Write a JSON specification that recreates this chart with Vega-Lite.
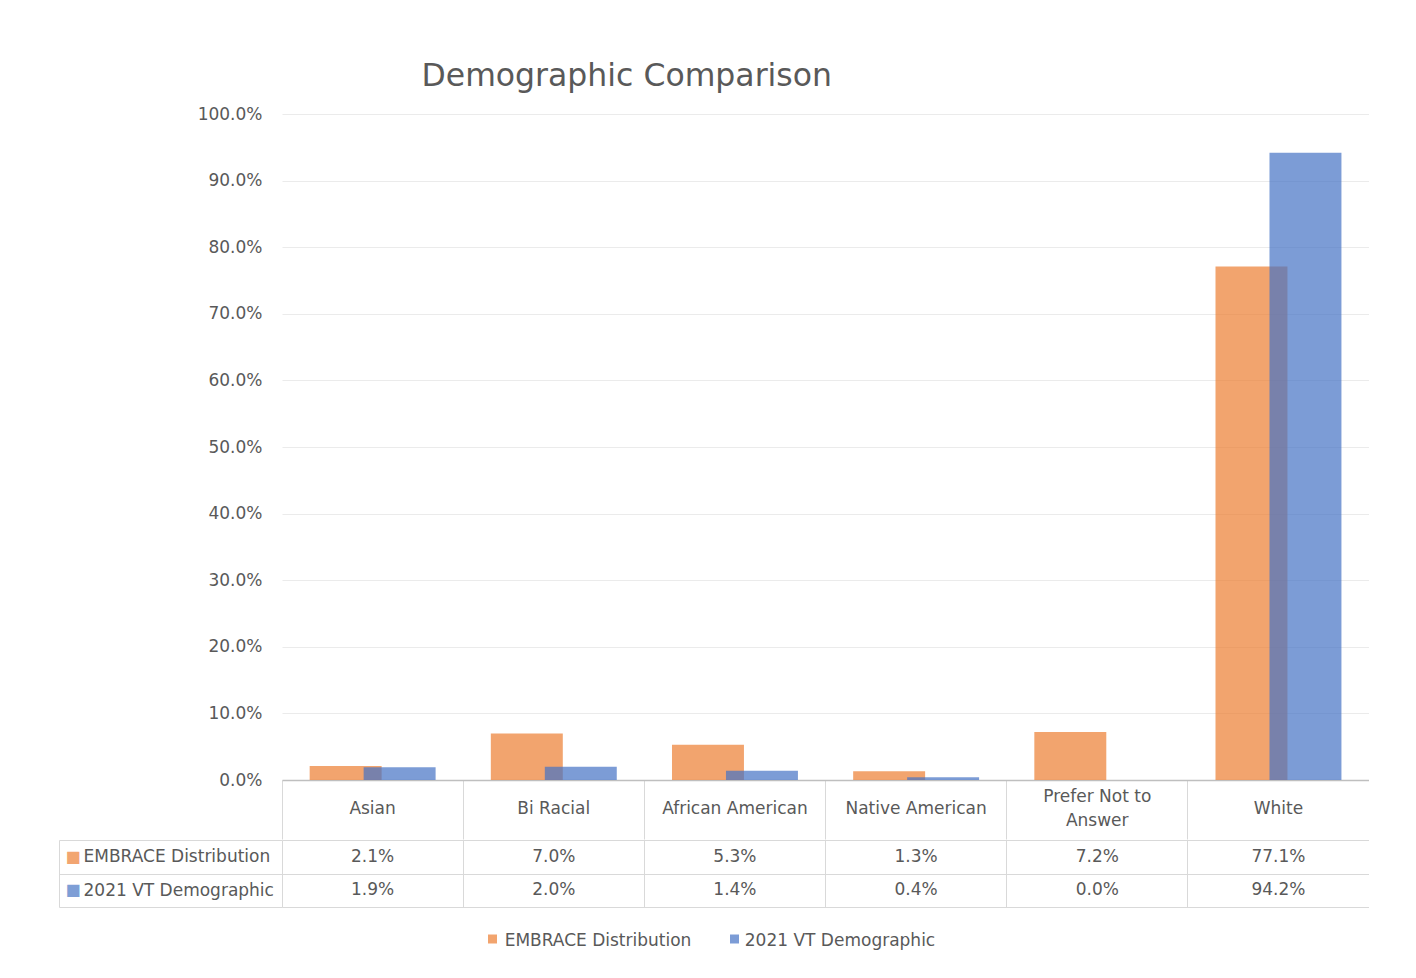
{
  "$schema": "https://vega.github.io/schema/vega-lite/v6.json",
  "background": "white",
  "padding": {"left": 58, "top": 60, "right": 0, "bottom": 0},
  "title": {
    "text": "Demographic Comparison",
    "anchor": "start",
    "dx": 363,
    "offset": 13,
    "font": "DejaVu Sans",
    "fontSize": 31.5,
    "fontWeight": "normal",
    "color": "#595959"
  },
  "datasets": {
    "shares": [
      {"category": "Asian", "series": "EMBRACE Distribution", "value": 0.021},
      {"category": "Bi Racial", "series": "EMBRACE Distribution", "value": 0.070},
      {"category": "African American", "series": "EMBRACE Distribution", "value": 0.053},
      {"category": "Native American", "series": "EMBRACE Distribution", "value": 0.013},
      {"category": "Prefer Not to Answer", "series": "EMBRACE Distribution", "value": 0.072},
      {"category": "White", "series": "EMBRACE Distribution", "value": 0.771},
      {"category": "Asian", "series": "2021 VT Demographic", "value": 0.019},
      {"category": "Bi Racial", "series": "2021 VT Demographic", "value": 0.020},
      {"category": "African American", "series": "2021 VT Demographic", "value": 0.014},
      {"category": "Native American", "series": "2021 VT Demographic", "value": 0.004},
      {"category": "Prefer Not to Answer", "series": "2021 VT Demographic", "value": 0.000},
      {"category": "White", "series": "2021 VT Demographic", "value": 0.942}
    ],
    "seriesList": [
      {"series": "EMBRACE Distribution"},
      {"series": "2021 VT Demographic"}
    ]
  },
  "config": {
    "font": "DejaVu Sans",
    "view": {"stroke": null},
    "axis": {"labelColor": "#595959", "labelFontSize": 17, "labelFont": "DejaVu Sans", "title": null}
  },
  "spacing": 24,
  "vconcat": [
    {
      "spacing": -14,
      "vconcat": [
        {
          "width": 1087,
          "height": 666,
          "data": {"name": "shares"},
          "mark": {"type": "bar", "opacity": 0.7, "width": {"band": 1.333}},
          "encoding": {
            "x": {
              "field": "category",
              "type": "nominal",
              "sort": null,
              "scale": {"paddingInner": 0, "paddingOuter": 0},
              "axis": {
                "orient": "bottom",
                "bandPosition": 0,
                "ticks": true,
                "tickSize": 59,
                "tickColor": "#d9d9d9",
                "tickWidth": 1,
                "domain": true,
                "domainColor": "#bfbfbf",
                "domainWidth": 1.5,
                "grid": false,
                "labelAngle": 0,
                "labelBaseline": "top",
                "labelPadding": {
                  "condition": {"test": "datum.value === 'Prefer Not to Answer'", "value": -50.5},
                  "value": -38.5
                },
                "labelLineHeight": 24,
                "labelLimit": 180,
                "labelExpr": "datum.label === 'Prefer Not to Answer' ? ['Prefer Not to', 'Answer'] : datum.label"
              }
            },
            "xOffset": {
              "field": "series",
              "type": "nominal",
              "sort": null,
              "scale": {"domain": ["EMBRACE Distribution", "2021 VT Demographic"], "paddingInner": 0, "paddingOuter": 0.678, "align": 0.79}
            },
            "y": {
              "field": "value",
              "type": "quantitative",
              "scale": {"domain": [0, 1]},
              "axis": {
                "values": [0, 0.1, 0.2, 0.3, 0.4, 0.5, 0.6, 0.7, 0.8, 0.9, 1],
                "format": ".1%",
                "domain": false,
                "ticks": false,
                "labelPadding": 20,
                "gridColor": "#ebebeb",
                "gridWidth": 1,
                "minExtent": 223
              }
            },
            "color": {
              "field": "series",
              "type": "nominal",
              "scale": {"domain": ["EMBRACE Distribution", "2021 VT Demographic"], "range": ["#ED7D31", "#4472C4"]},
              "legend": null
            }
          }
        },
        {
          "width": 1087,
          "height": 67,
          "data": {"name": "shares"},
          "encoding": {
            "x": {
              "field": "category",
              "type": "nominal",
              "sort": null,
              "scale": {"paddingInner": 0, "paddingOuter": 0},
              "axis": {
                "orient": "bottom",
                "bandPosition": 0,
                "labels": false,
                "ticks": false,
                "domain": false,
                "grid": true,
                "gridColor": "#d9d9d9",
                "zindex": 1
              }
            },
            "y": {
              "field": "series",
              "type": "nominal",
              "sort": ["EMBRACE Distribution", "2021 VT Demographic"],
              "scale": {"paddingInner": 0, "paddingOuter": 0}
            }
          },
          "layer": [
            {
              "mark": {"type": "rect", "fill": "white"},
              "encoding": {
                "y": {
                  "field": "series",
                  "type": "nominal",
                  "sort": ["EMBRACE Distribution", "2021 VT Demographic"],
                  "scale": {"paddingInner": 0, "paddingOuter": 0},
                  "axis": {
                    "orient": "left",
                    "offset": 223,
                    "domain": true,
                    "domainColor": "#d9d9d9",
                    "ticks": false,
                    "tickSize": 0,
                    "grid": false,
                    "labelExpr": "'■'",
                    "labelAlign": "left",
                    "labelPadding": -6,
                    "labelFontSize": 16,
                    "labelOpacity": 0.7,
                    "labelColor": {
                      "condition": {"test": "datum.value === 'EMBRACE Distribution'", "value": "#ED7D31"},
                      "value": "#4472C4"
                    },
                    "zindex": 1
                  }
                }
              }
            },
            {
              "mark": {"type": "text", "fontSize": 17, "color": "#595959"},
              "encoding": {
                "text": {"field": "value", "type": "quantitative", "format": ".1%"},
                "y": {
                  "field": "series",
                  "type": "nominal",
                  "sort": ["EMBRACE Distribution", "2021 VT Demographic"],
                  "scale": {"paddingInner": 0, "paddingOuter": 0},
                  "axis": {
                    "orient": "left",
                    "tickBand": "extent",
                    "ticks": true,
                    "tickSize": 223,
                    "tickColor": "#d9d9d9",
                    "domain": false,
                    "grid": true,
                    "gridColor": "#d9d9d9",
                    "labelAlign": "left",
                    "labelPadding": -24,
                    "labelLimit": 300,
                    "zindex": 1
                  }
                }
              }
            }
          ],
          "resolve": {"axis": {"y": "independent"}}
        }
      ]
    },
    {
      "width": 484,
      "height": 12,
      "data": {"name": "seriesList"},
      "encoding": {
        "x": {
          "field": "series",
          "type": "nominal",
          "sort": null,
          "scale": {"paddingInner": 0, "paddingOuter": 0},
          "axis": null
        }
      },
      "layer": [
        {
          "mark": {"type": "point", "shape": "square", "filled": true, "size": 81, "opacity": 0.7, "xOffset": 89.5},
          "encoding": {
            "color": {
              "field": "series",
              "type": "nominal",
              "scale": {"domain": ["EMBRACE Distribution", "2021 VT Demographic"], "range": ["#ED7D31", "#4472C4"]},
              "legend": null
            }
          }
        },
        {
          "mark": {"type": "text", "align": "center", "baseline": "alphabetic", "dx": 195, "dy": 7.4, "fontSize": 17, "color": "#595959"},
          "encoding": {"text": {"field": "series"}}
        }
      ]
    }
  ]
}
